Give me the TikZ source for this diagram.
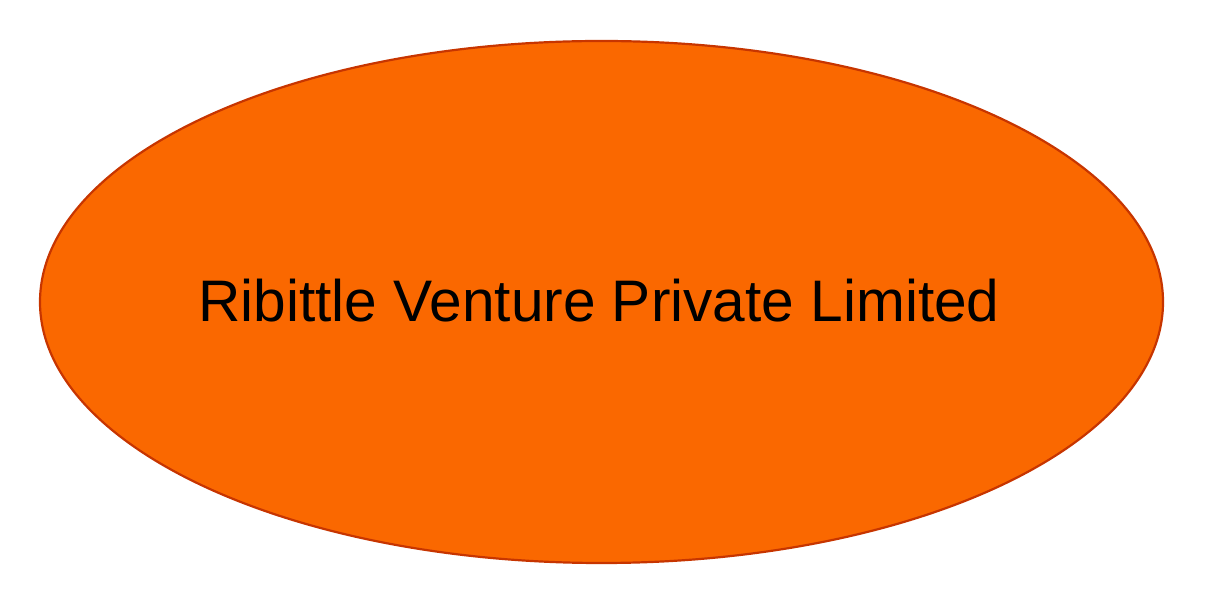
\documentclass[tikz,border=0pt]{standalone}
\usepackage{fontspec}
\setmainfont{Liberation Sans}
\usetikzlibrary{shapes.geometric}
\definecolor{ovfill}{HTML}{FA6800}
\definecolor{ovline}{HTML}{C73500}
\tikzset{oval/.style={ellipse, draw=ovline, fill=ovfill, line width=1.1pt, inner sep=0pt, minimum width=561.5pt, minimum height=261pt}}
\begin{document}
\begin{tikzpicture}[x=1pt,y=1pt]
\useasboundingbox (0,0) rectangle (604,302);
\node[oval] (org) at (300.75,151) {};
\node[anchor=base, font=\fontsize{29.3}{34}\selectfont, inner sep=0pt] (lbl) at (299.5,141) {Ribittle Venture Private Limited};
\end{tikzpicture}
\end{document}
